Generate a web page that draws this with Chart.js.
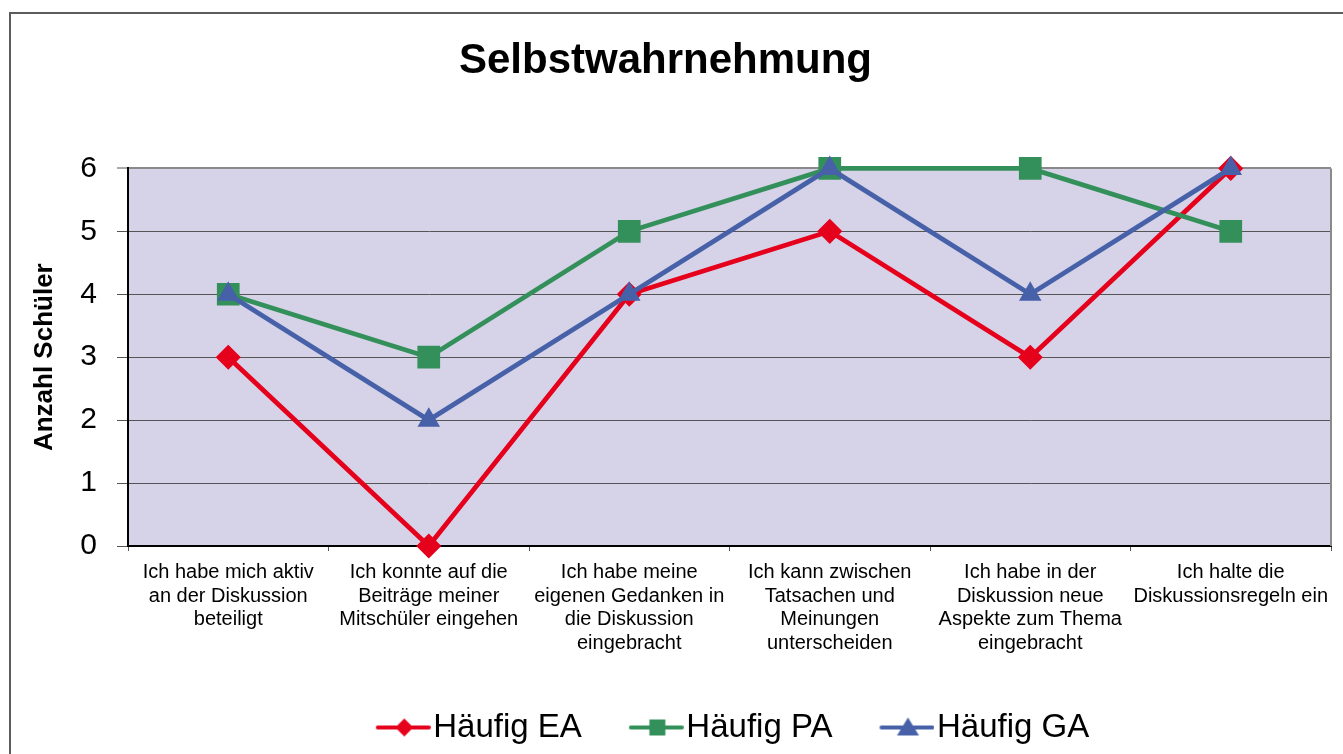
<!DOCTYPE html>
<html lang="de">
<head>
<meta charset="utf-8">
<title>Selbstwahrnehmung</title>
<script src="https://cdn.jsdelivr.net/npm/chart.js@4.4.1/dist/chart.umd.min.js"></script>
<style>
  html, body { margin: 0; padding: 0; background: #fff; overflow: hidden; }
  #wrap  { position: relative; width: 1343px; height: 754px; overflow: hidden; }
  #frame { position: absolute; left: 9px; top: 12px; width: 1400px; height: 800px;
           border: 2px solid #5c5c5c; box-sizing: border-box; }
  #chart { position: absolute; left: 0; top: 0; }
</style>
</head>
<body>
<div id="wrap">
  <div id="frame"></div>
  <canvas id="chart" width="1343" height="754"></canvas>
</div>
<script>
/* Selbstwahrnehmung — line chart */

// ── DATA ──────────────────────────────────────────────────────────────────────
const categories = [
  ['Ich habe mich aktiv', 'an der Diskussion', 'beteiligt'],
  ['Ich konnte auf die', 'Beiträge meiner', 'Mitschüler eingehen'],
  ['Ich habe meine', 'eigenen Gedanken in', 'die Diskussion', 'eingebracht'],
  ['Ich kann zwischen', 'Tatsachen und', 'Meinungen', 'unterscheiden'],
  ['Ich habe in der', 'Diskussion neue', 'Aspekte zum Thema', 'eingebracht'],
  ['Ich halte die', 'Diskussionsregeln ein']
];
const seriesNames = ['Häufig EA', 'Häufig PA', 'Häufig GA'];
const haeufigEA   = [3, 0, 4, 5, 3, 6];
const haeufigPA   = [4, 3, 5, 6, 6, 5];
const haeufigGA   = [4, 2, 4, 6, 4, 6];
const yTicks      = [0, 1, 2, 3, 4, 5, 6];

// ── STYLE ─────────────────────────────────────────────────────────────────────
const FONT   = "'Liberation Sans', Arial, sans-serif";
const RED    = '#e5001c';
const GREEN  = '#34905a';
const BLUE   = '#4761a9';
const PLOTBG = '#d6d3e8';

// legend symbol: line with the marker in the middle
function legendIcon(color, shape) {
  const c = document.createElement('canvas');
  c.width = 75; c.height = 24;
  const g = c.getContext('2d');
  const cx = 48.5, cy = 12;
  g.strokeStyle = color;
  g.lineWidth = 4;
  g.lineCap = 'round';
  g.beginPath();
  g.moveTo(22, cy);
  g.lineTo(73, cy);
  g.stroke();
  g.fillStyle = color;
  g.beginPath();
  if (shape === 'diamond') {
    g.moveTo(cx, cy - 9); g.lineTo(cx + 9, cy); g.lineTo(cx, cy + 9); g.lineTo(cx - 9, cy);
  } else if (shape === 'square') {
    g.rect(cx - 8, cy - 8, 16, 16);
  } else {
    g.moveTo(cx, cy - 10); g.lineTo(cx + 11, cy + 8); g.lineTo(cx - 11, cy + 8);
  }
  g.closePath();
  g.fill();
  return c;
}

const legendIcons = [
  legendIcon(RED, 'diamond'),
  legendIcon(GREEN, 'square'),
  legendIcon(BLUE, 'triangle')
];

// plot area background + right edge
const plotFrame = {
  id: 'plotFrame',
  beforeDraw(chart) {
    const a = chart.chartArea;
    const ctx = chart.ctx;
    ctx.save();
    ctx.fillStyle = PLOTBG;
    ctx.fillRect(a.left, a.top, a.right - a.left, a.bottom - a.top);
    ctx.restore();
  },
  beforeDatasetsDraw(chart) {
    const a = chart.chartArea;
    const ctx = chart.ctx;
    ctx.save();
    ctx.strokeStyle = '#8a8a8a';
    ctx.lineWidth = 2;
    ctx.beginPath();
    ctx.moveTo(a.right, a.top);
    ctx.lineTo(a.right, a.bottom);
    ctx.stroke();
    ctx.restore();
  }
};

function series(label, data, color, style, radius, order) {
  return {
    label,
    data,
    borderColor:          color,
    backgroundColor:      color,
    borderWidth:          4.8,
    pointStyle:           style,
    pointRadius:          radius,
    pointHoverRadius:     radius,
    pointBackgroundColor: color,
    pointBorderColor:     color,
    pointBorderWidth:     1.5,
    tension:              0,
    fill:                 false,
    clip:                 false,
    order
  };
}

// ── CHART ─────────────────────────────────────────────────────────────────────
new Chart(document.getElementById('chart'), {
  type: 'line',
  data: {
    labels: categories,
    datasets: [
      series(seriesNames[0], haeufigEA, RED,   'rectRot',  11.5, 3),
      series(seriesNames[1], haeufigPA, GREEN, 'rect',     15,   2),
      series(seriesNames[2], haeufigGA, BLUE,  'triangle', 11.5, 1)
    ]
  },
  options: {
    responsive: false,
    animation:  false,
    layout: { autoPadding: false, padding: { left: 0, right: 12, top: 0, bottom: 0 } },
    plugins: {
      title: {
        display: true,
        text:    'Selbstwahrnehmung',
        color:   '#000',
        font:    { family: FONT, size: 42, weight: 'bold', lineHeight: 1.2 },
        padding: { top: 36, bottom: 82 }
      },
      legend: {
        position: 'bottom',
        fullSize: false,
        labels: {
          usePointStyle:   true,
          pointStyleWidth: 47,
          padding:         41,
          color:           '#000',
          font:            { family: FONT, size: 33 },
          generateLabels: chart => chart.data.datasets.map((ds, i) => ({
            text:         ds.label,
            pointStyle:   legendIcons[i],
            fillStyle:    ds.borderColor,
            strokeStyle:  ds.borderColor,
            lineWidth:    0,
            hidden:       false,
            fontColor:    '#000',
            datasetIndex: i
          }))
        }
      },
      tooltip: { enabled: false }
    },
    scales: {
      x: {
        offset: true,
        afterFit: s => { s.height = 124; s.paddingLeft = 0; s.paddingRight = 0; },
        border: { color: '#000', width: 2 },
        grid: {
          offset:          true,
          drawOnChartArea: false,
          drawTicks:       true,
          tickLength:      5,
          tickColor:       '#555'
        },
        ticks: {
          color:       '#000',
          padding:     10,
          autoSkip:    false,
          maxRotation: 0,
          minRotation: 0,
          font:        { family: FONT, size: 20, lineHeight: 1.175 }
        }
      },
      y: {
        min: yTicks[0],
        max: yTicks[yTicks.length - 1],
        afterFit: s => { s.width = 128; },
        afterBuildTicks: s => { s.ticks = yTicks.map(v => ({ value: v })); },
        border: { color: '#000', width: 2 },
        grid: {
          color:      c => c.tick && c.tick.value === 6 ? '#8a8a8a' : '#555',
          lineWidth:  c => c.tick && c.tick.value === 6 ? 2 : 1,
          tickColor:  '#555',
          tickWidth:  1,
          tickLength: 11
        },
        ticks: {
          color:   '#000',
          padding: 20,
          font:    { family: FONT, size: 30 }
        },
        title: {
          display: true,
          text:    'Anzahl Schüler',
          color:   '#000',
          font:    { family: FONT, size: 26, weight: 'bold', lineHeight: 1.2 },
          padding: { top: 29, bottom: 0 }
        }
      }
    }
  },
  plugins: [plotFrame]
});
</script>
</body>
</html>
